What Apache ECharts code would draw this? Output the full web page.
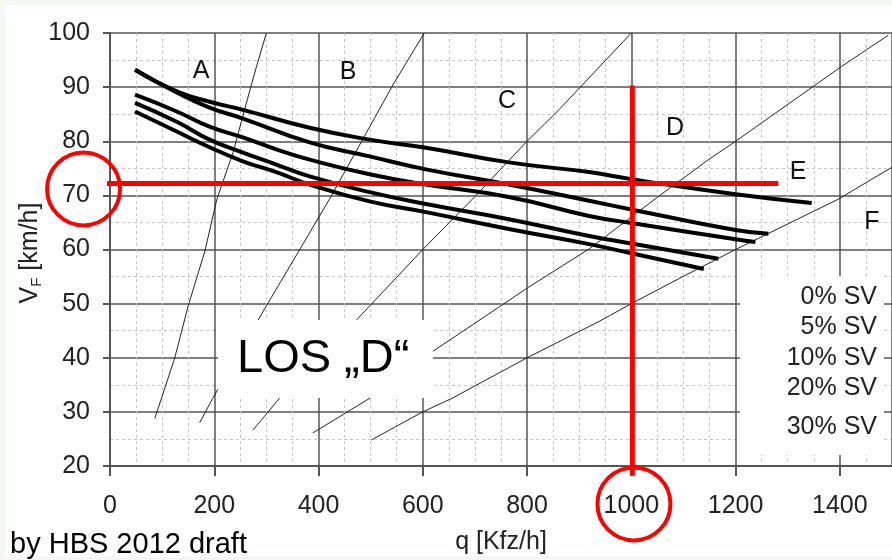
<!DOCTYPE html>
<html><head><meta charset="utf-8">
<script src="https://cdn.jsdelivr.net/npm/echarts@6/dist/echarts.min.js"></script>
<style>
html,body{margin:0;padding:0;background:#f2f8f2;}
#bg{position:absolute;left:5px;top:5px;width:887px;height:552px;background:#fff;}
#c{position:absolute;left:0;top:0;width:892px;height:560px;}
</style>
</head><body><div id="bg"></div><div id="c"></div>
<script>
// Speed-flow curves (q [Kfz/h], V [km/h]) per heavy-vehicle share
const sv0  = [[48,93.2],[128,89.2],[191,87.3],[255,85.8],[383,82.5],[498,80.3],[606,78.8],[765,76.1],[919,74.3],[1000,73.0],[1200,70.2],[1346,68.6]];
const sv5  = [[48,93.2],[128,89.0],[191,86.2],[255,84.2],[383,79.8],[498,77.2],[606,74.8],[765,72.0],[919,69.0],[1000,67.4],[1200,63.6],[1263,62.9]];
const sv10 = [[48,88.6],[128,85.5],[191,82.7],[255,80.7],[319,78.5],[383,76.6],[498,73.9],[606,72.0],[765,69.7],[919,66.2],[1000,64.9],[1200,61.9],[1238,61.4]];
const sv20 = [[48,87.1],[128,83.6],[191,80.3],[255,77.9],[319,75.7],[383,73.5],[498,70.6],[606,68.4],[765,65.6],[919,62.5],[1000,61.1],[1167,58.3]];
const sv30 = [[48,85.5],[128,81.8],[191,78.9],[255,76.3],[319,74.3],[383,72.0],[498,68.9],[606,66.9],[765,63.8],[919,61.0],[1000,59.3],[1139,56.4]];

// LOS boundary lines
const losAB = [[86,28.8],[124,39.9],[150,49.6],[182,59.7],[205,69.3],[236,77.9],[258,85.8],[281,93.8],[300,100]];
const losBC = [[172,28],[197,32.5],[300,49.6],[364,60],[421,69.3],[492,81.6],[545,90.8],[603,100]];
const losCD = [[274,26.6],[325,32.5],[475,47.2],[600,60],[695,69.3],[800,80],[861,85.8],[1000,100]];
const losDE = [[389,26.1],[498,32.5],[618,41.1],[804,53.1],[919,60.1],[1052,69.8],[1148,76.6],[1200,80],[1403,93.8],[1493,99.6]];
const losEF = [[501,24.8],[600,30],[656,32.5],[800,40],[938,46.7],[1000,50],[1091,54.6],[1200,60],[1397,69.3],[1500,75.2]];

// red annotation
const redH = [[-25,72.2],[1282,72.2]];
const redV = [[1002,90.3],[1002,18.2]];
const redCircles = [[-50.7,71.2],[1005,13.0]];

const svLabels = ['0% SV','5% SV','10% SV','20% SV','30% SV'];
const losLetters = ['A','B','C','D','E','F'];

const FONT = '"Liberation Sans", Arial, sans-serif';
const chart = echarts.init(document.getElementById('c'), null, {renderer:'canvas'});

const thick = (d) => ({type:'line', data:d, smooth:0.5, showSymbol:false, lineStyle:{color:'#000', width:4}, z:5, silent:true});
const thin = (d) => ({type:'line', data:d, smooth:false, showSymbol:false, lineStyle:{color:'#222', width:1}, z:4, silent:true});

const letterPos = [[201,71],[348,72],[507,101],[675,128],[798,172],[872,222]];
const legendY = [297,327,358,388,427];

const graphics = [
  {type:'rect', shape:{x:218,y:320,width:215,height:78}, style:{fill:'#fff'}, z:20, silent:true},
  {type:'rect', shape:{x:740,y:276,width:144,height:179}, style:{fill:'#fff'}, z:20, silent:true},
  {type:'text', x:237, y:359, style:{text:'LOS \u201eD\u201c', font:'47px '+FONT, fill:'#000', verticalAlign:'middle', align:'left'}, z:21},
  {type:'text', x:10, y:545, style:{text:'by HBS 2012 draft', font:'29px '+FONT, fill:'#000', verticalAlign:'middle', align:'left'}, z:21},
  {type:'text', x:30, y:253, rotation:Math.PI/2, style:{text:'{v|V}{s|F}{v| [km/h]}', align:'center', verticalAlign:'middle', fill:'#222',
     rich:{v:{fontSize:25, fontFamily:FONT, fill:'#222', lineHeight:28}, s:{fontSize:15, fontFamily:FONT, fill:'#222', verticalAlign:'bottom', lineHeight:22}}}, z:21}
];
losLetters.forEach((t,i)=>graphics.push({type:'text', x:letterPos[i][0], y:letterPos[i][1], style:{text:t, font:'25px '+FONT, fill:'#111', align:'center', verticalAlign:'middle'}, z:21}));
svLabels.forEach((t,i)=>graphics.push({type:'text', x:877, y:legendY[i], style:{text:t, font:'25px '+FONT, fill:'#222', align:'right', verticalAlign:'middle'}, z:21}));

chart.setOption({
  animation:false,
  backgroundColor:'transparent',
  grid:{left:110, top:33, width:784, height:435},
  xAxis:{
    type:'value', min:0, max:1500, interval:200,
    name:'q [Kfz/h]', nameLocation:'middle', nameGap:64,
    nameTextStyle:{fontSize:25, color:'#222', fontFamily:FONT},
    axisLine:{show:true, lineStyle:{color:'#555', width:2}},
    axisTick:{show:true, length:10, lineStyle:{color:'#555', width:2}},
    axisLabel:{fontSize:25, color:'#222', fontFamily:FONT, margin:28, showMaxLabel:false, formatter:(v)=>String(v)},
    splitLine:{show:true, lineStyle:{color:'#555', width:1.5}},
    minorTick:{show:false, splitNumber:4},
    minorSplitLine:{show:true, lineStyle:{color:'#c4c4c4', width:1, type:[3,3]}}
  },
  yAxis:{
    type:'value', min:20, max:100, interval:10,
    axisLine:{show:true, lineStyle:{color:'#555', width:2}},
    axisTick:{show:true, length:7, lineStyle:{color:'#555', width:2}},
    axisLabel:{fontSize:25, color:'#222', fontFamily:FONT, margin:20},
    splitLine:{show:true, lineStyle:{color:'#555', width:1.5}},
    minorTick:{show:false, splitNumber:2},
    minorSplitLine:{show:true, lineStyle:{color:'#c4c4c4', width:1, type:[3,3]}}
  },
  graphic:graphics,
  series:[
    thin(losAB), thin(losBC), thin(losCD), thin(losDE), thin(losEF),
    thick(sv0), thick(sv5), thick(sv10), thick(sv20), thick(sv30),
    {type:'line', data:redH, showSymbol:false, clip:false, lineStyle:{color:'#ff0000', width:5}, z:10, silent:true},
    {type:'line', data:redV, showSymbol:false, clip:false, lineStyle:{color:'#ff0000', width:5}, z:10, silent:true},
    {type:'scatter', data:redCircles, clip:false, symbol:'circle', symbolSize:73, itemStyle:{color:'rgba(0,0,0,0)', borderColor:'#ff0000', borderWidth:4, opacity:1}, z:10, silent:true}
  ]
});
</script>
</body></html>
